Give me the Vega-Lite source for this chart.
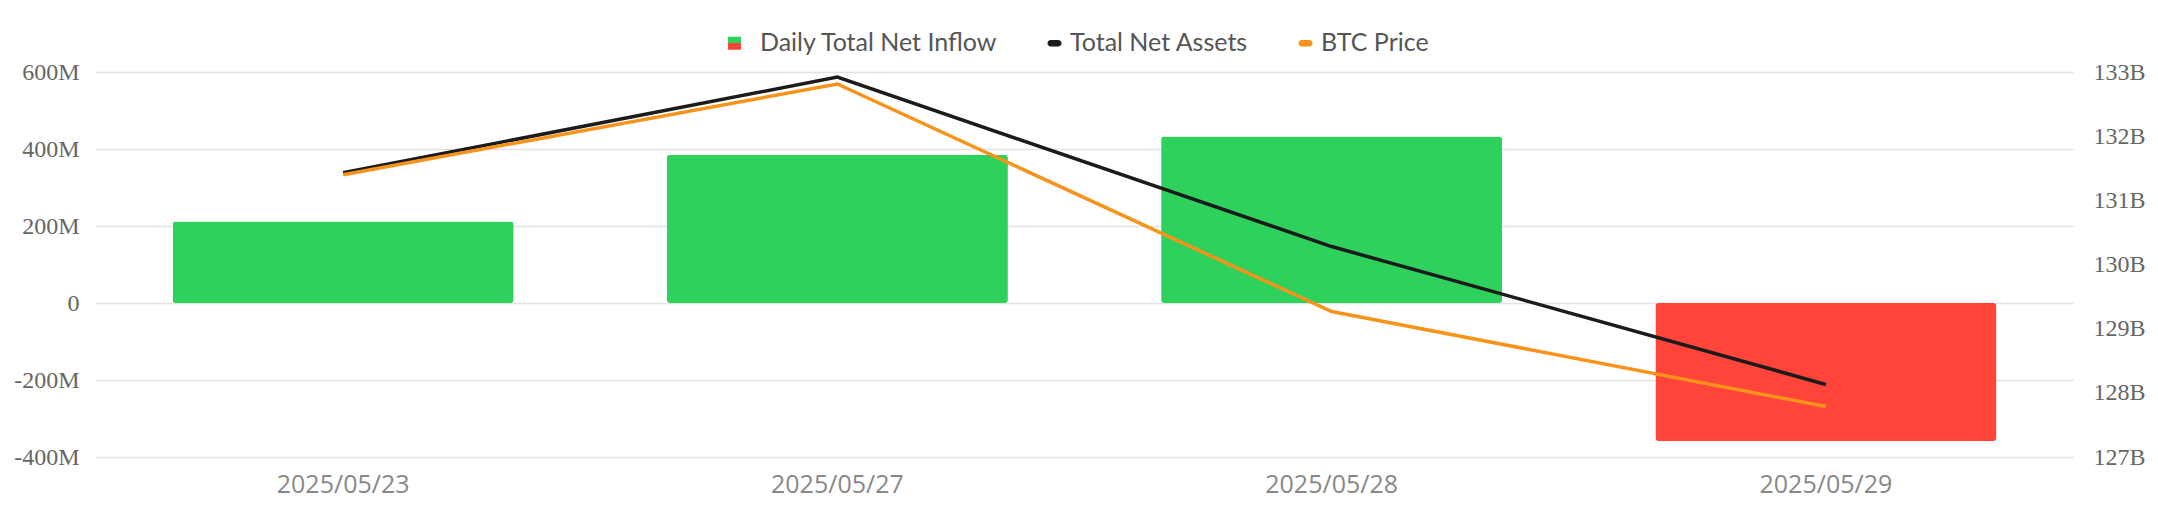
{
  "$schema": "https://vega.github.io/schema/vega-lite/v6.json",
  "autosize": {"type": "none"},
  "padding": {"left": 96, "top": 72, "right": 85, "bottom": 49},
  "width": 1977,
  "height": 385,
  "background": "#ffffff",
  "config": {"view": {"stroke": null}},
  "data": {"values": [
    {"date": "2025/05/23", "inflow": 211700000, "assets": 131430000000, "btc": 108300},
    {"date": "2025/05/27", "inflow": 385200000, "assets": 132920000000, "btc": 109360},
    {"date": "2025/05/28", "inflow": 432700000, "assets": 130280000000, "btc": 106700},
    {"date": "2025/05/29", "inflow": -358600000, "assets": 128130000000, "btc": 105590}
  ]},
  "encoding": {
    "x": {"field": "date", "type": "ordinal", "sort": null,
      "scale": {"paddingInner": 0.31, "paddingOuter": 0.155},
      "axis": {"title": null, "domain": false, "ticks": false, "labelAngle": 0,
        "labelFont": "Open Sans", "labelFontSize": 25, "labelColor": "#888888", "labelPadding": 15}}
  },
  "layer": [
    {
      "mark": {"type": "bar", "cornerRadius": 3},
      "encoding": {
        "y": {"field": "inflow", "type": "quantitative",
          "scale": {"domain": [-400000000, 600000000], "nice": false, "zero": false},
          "axis": {"title": null, "orient": "left", "domain": false, "ticks": false,
            "values": [-400000000, -200000000, 0, 200000000, 400000000, 600000000],
            "labelExpr": "datum.value == 0 ? '0' : (datum.value / 1000000) + 'M'",
            "labelFont": "Liberation Serif", "labelFontSize": 24, "labelColor": "#666666", "labelPadding": 17,
            "grid": true, "gridColor": "#E3E3E3", "gridWidth": 1.5}},
        "fill": {"condition": {"test": "datum.inflow < 0", "value": "#FF443A"}, "value": "#2ED15B"}
      }
    },
    {
      "mark": {"type": "line", "strokeWidth": 3.5},
      "encoding": {
        "y": {"field": "assets", "type": "quantitative",
          "scale": {"domain": [127000000000, 133000000000], "nice": false, "zero": false},
          "axis": {"title": null, "orient": "right", "domain": false, "ticks": false, "grid": false,
            "values": [127000000000, 128000000000, 129000000000, 130000000000, 131000000000, 132000000000, 133000000000],
            "labelExpr": "(datum.value / 1000000000) + 'B'",
            "labelFont": "Liberation Serif", "labelFontSize": 24, "labelColor": "#666666", "labelPadding": 20}},
        "color": {"datum": "Total Net Assets", "type": "nominal",
          "scale": {"domain": ["Daily Total Net Inflow", "Total Net Assets", "BTC Price"],
                    "range": ["#2ED15B", "#1B1B1B", "#F7931A"]},
          "legend": {
            "title": null, "orient": "none", "direction": "horizontal",
            "legendX": 636, "legendY": -41.5, "padding": 0,
            "labelFont": "Lato", "labelFontSize": 25, "labelColor": "#555555", "labelLimit": 500,
            "labelOffset": 3, "columnPadding": 44, "symbolSize": 196, "symbolStrokeWidth": 0,
            "encode": {"symbols": {"update": {
              "shape": [
                {"test": "datum.value === 'Daily Total Net Inflow'", "value": "M-2.36,-0.93L-0.5,-0.93L-0.5,0.93L-2.36,0.93Z"},
                {"value": "M-0.55,-0.45L0.55,-0.45A0.45,0.45 0 0 1 0.55,0.45L-0.55,0.45A0.45,0.45 0 0 1 -0.55,-0.45Z"}
              ],
              "fill": [
                {"test": "datum.value === 'Daily Total Net Inflow'", "value": {"gradient": "linear", "x1": 0, "y1": 0, "x2": 0, "y2": 1,
                  "stops": [{"offset": 0, "color": "#2ED15B"}, {"offset": 0.5, "color": "#2ED15B"}, {"offset": 0.5, "color": "#FF443A"}, {"offset": 1, "color": "#FF443A"}]}},
                {"scale": "color", "field": "value"}
              ],
              "stroke": {"value": "transparent"},
              "strokeWidth": {"value": 0},
              "size": {"value": 196},
              "opacity": {"value": 1}
            }}}
          }}
      }
    },
    {
      "mark": {"type": "line", "strokeWidth": 3.5},
      "encoding": {
        "y": {"field": "btc", "type": "quantitative",
          "scale": {"domain": [105000, 109500], "nice": false, "zero": false},
          "axis": null},
        "color": {"datum": "BTC Price", "type": "nominal"}
      }
    }
  ],
  "resolve": {"scale": {"y": "independent"}, "axis": {"y": "independent"}}
}
